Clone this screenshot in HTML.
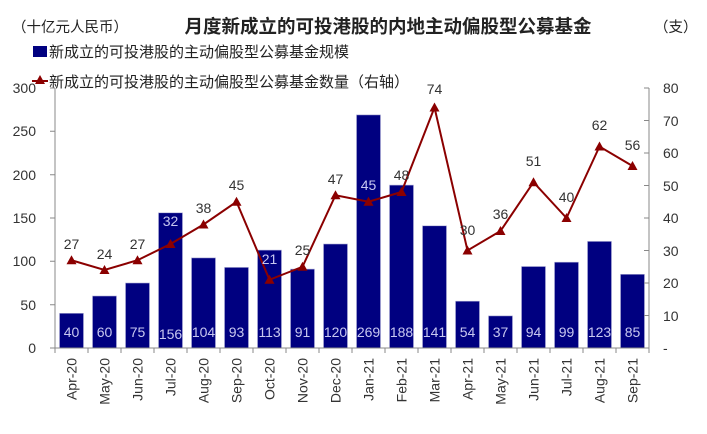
<!DOCTYPE html>
<html><head><meta charset="utf-8"><style>body{margin:0;background:#fff}svg{display:block}text{font-family:"Liberation Sans","Noto Sans CJK SC",sans-serif}</style></head><body>
<svg width="707" height="434" xmlns="http://www.w3.org/2000/svg">
<text x="12" y="32" font-size="14.5" fill="#222">（十亿元人民币）</text>
<text x="388" y="33" font-size="18.5" font-weight="bold" fill="#222" text-anchor="middle">月度新成立的可投港股的内地主动偏股型公募基金</text>
<text x="654" y="32" font-size="14.5" fill="#222">（支）</text>
<rect x="33" y="46" width="14" height="11" fill="#000080"/>
<text x="49" y="57" font-size="15" fill="#222">新成立的可投港股的主动偏股型公募基金规模</text>
<line x1="32" y1="81" x2="48" y2="81" stroke="#8b0000" stroke-width="2"/>
<polygon points="40,75 45,84 35,84" fill="#8b0000"/>
<text x="49" y="87" font-size="15" fill="#222">新成立的可投港股的主动偏股型公募基金数量（右轴）</text>

<g fill="#000080" stroke="#b0b0d8" stroke-width="0.6">
<rect x="59.5" y="313.3" width="24" height="34.7"/>
<rect x="92.5" y="296" width="24" height="52"/>
<rect x="125.5" y="283" width="24" height="65"/>
<rect x="158.5" y="212.8" width="24" height="135.2"/>
<rect x="191.5" y="257.9" width="24" height="90.1"/>
<rect x="224.5" y="267.4" width="24" height="80.6"/>
<rect x="257.5" y="250.1" width="24" height="97.9"/>
<rect x="290.5" y="269.1" width="24" height="78.9"/>
<rect x="323.5" y="244" width="24" height="104"/>
<rect x="356.5" y="114.9" width="24" height="233.1"/>
<rect x="389.5" y="185.1" width="24" height="162.9"/>
<rect x="422.5" y="225.8" width="24" height="122.2"/>
<rect x="455.5" y="301.2" width="24" height="46.8"/>
<rect x="488.5" y="315.9" width="24" height="32.1"/>
<rect x="521.5" y="266.5" width="24" height="81.5"/>
<rect x="554.5" y="262.2" width="24" height="85.8"/>
<rect x="587.5" y="241.4" width="24" height="106.6"/>
<rect x="620.5" y="274.3" width="24" height="73.7"/>
</g>

<g stroke="#888" stroke-width="1" fill="none">
<path d="M55,88 V348 H649 V88"/>
<path d="M50,88H55M50,131.3H55M50,174.7H55M50,218H55M50,261.3H55M50,304.7H55M50,348H55"/>
<path d="M644,88H649M644,120.5H649M644,153H649M644,185.5H649M644,218H649M644,250.5H649M644,283H649M644,315.5H649M644,348H649"/>
<path d="M55,348v5M88,348v5M121,348v5M154,348v5M187,348v5M220,348v5M253,348v5M286,348v5M319,348v5M352,348v5M385,348v5M418,348v5M451,348v5M484,348v5M517,348v5M550,348v5M583,348v5M616,348v5M649,348v5"/>
</g>
<g font-size="14" fill="#333" text-anchor="end">
<text x="36" y="93">300</text><text x="36" y="136">250</text><text x="36" y="180">200</text><text x="36" y="223">150</text><text x="36" y="266">100</text><text x="36" y="310">50</text><text x="36" y="353">0</text>
</g>
<g font-size="14" fill="#333">
<text x="663" y="93">80</text><text x="663" y="126">70</text><text x="663" y="158">60</text><text x="663" y="191">50</text><text x="663" y="223">40</text><text x="663" y="256">30</text><text x="663" y="288">20</text><text x="663" y="321">10</text><text x="663" y="353">-</text>
</g>

<g font-size="14" fill="#c8c8f0" text-anchor="middle">
<text x="71.5" y="337">40</text><text x="104.5" y="337">60</text><text x="137.5" y="337">75</text><text x="170.5" y="339">156</text><text x="203.5" y="337">104</text><text x="236.5" y="337">93</text><text x="269.5" y="337">113</text><text x="302.5" y="337">91</text><text x="335.5" y="337">120</text><text x="368.5" y="337">269</text><text x="401.5" y="337">188</text><text x="434.5" y="337">141</text><text x="467.5" y="337">54</text><text x="500.5" y="337">37</text><text x="533.5" y="337">94</text><text x="566.5" y="337">99</text><text x="599.5" y="337">123</text><text x="632.5" y="337">85</text>
</g>

<g font-size="14" fill="#333" text-anchor="end">
<text transform="translate(76.5,358) rotate(-90)">Apr-20</text>
<text transform="translate(109.5,358) rotate(-90)">May-20</text>
<text transform="translate(142.5,358) rotate(-90)">Jun-20</text>
<text transform="translate(175.5,358) rotate(-90)">Jul-20</text>
<text transform="translate(208.5,358) rotate(-90)">Aug-20</text>
<text transform="translate(241.5,358) rotate(-90)">Sep-20</text>
<text transform="translate(274.5,358) rotate(-90)">Oct-20</text>
<text transform="translate(307.5,358) rotate(-90)">Nov-20</text>
<text transform="translate(340.5,358) rotate(-90)">Dec-20</text>
<text transform="translate(373.5,358) rotate(-90)">Jan-21</text>
<text transform="translate(406.5,358) rotate(-90)">Feb-21</text>
<text transform="translate(439.5,358) rotate(-90)">Mar-21</text>
<text transform="translate(472.5,358) rotate(-90)">Apr-21</text>
<text transform="translate(505.5,358) rotate(-90)">May-21</text>
<text transform="translate(538.5,358) rotate(-90)">Jun-21</text>
<text transform="translate(571.5,358) rotate(-90)">Jul-21</text>
<text transform="translate(604.5,358) rotate(-90)">Aug-21</text>
<text transform="translate(637.5,358) rotate(-90)">Sep-21</text>
</g>

<polyline points="71.5,260.25 104.5,270 137.5,260.25 170.5,244 203.5,224.5 236.5,201.75 269.5,279.75 302.5,266.75 335.5,195.25 368.5,201.75 401.5,192 434.5,107.5 467.5,250.5 500.5,231 533.5,182.25 566.5,218 599.5,146.5 632.5,166" fill="none" stroke="#8b0000" stroke-width="2"/>
<g fill="#8b0000">
<polygon points="71.5,255.25 76.5,264.25 66.5,264.25"/>
<polygon points="104.5,265 109.5,274 99.5,274"/>
<polygon points="137.5,255.25 142.5,264.25 132.5,264.25"/>
<polygon points="170.5,239 175.5,248 165.5,248"/>
<polygon points="203.5,219.5 208.5,228.5 198.5,228.5"/>
<polygon points="236.5,196.75 241.5,205.75 231.5,205.75"/>
<polygon points="269.5,274.75 274.5,283.75 264.5,283.75"/>
<polygon points="302.5,261.75 307.5,270.75 297.5,270.75"/>
<polygon points="335.5,190.25 340.5,199.25 330.5,199.25"/>
<polygon points="368.5,196.75 373.5,205.75 363.5,205.75"/>
<polygon points="401.5,187 406.5,196 396.5,196"/>
<polygon points="434.5,102.5 439.5,111.5 429.5,111.5"/>
<polygon points="467.5,245.5 472.5,254.5 462.5,254.5"/>
<polygon points="500.5,226 505.5,235 495.5,235"/>
<polygon points="533.5,177.25 538.5,186.25 528.5,186.25"/>
<polygon points="566.5,213 571.5,222 561.5,222"/>
<polygon points="599.5,141.5 604.5,150.5 594.5,150.5"/>
<polygon points="632.5,161 637.5,170 627.5,170"/>
</g>
<g font-size="14" fill="#333" text-anchor="middle">
<text x="71.5" y="249">27</text><text x="104.5" y="259">24</text><text x="137.5" y="249">27</text><text x="170.5" y="226" fill="#c8c8f0">32</text><text x="203.5" y="213">38</text><text x="236.5" y="190">45</text><text x="269.5" y="264" fill="#c8c8f0">21</text><text x="302.5" y="255">25</text><text x="335.5" y="184">47</text><text x="368.5" y="190" fill="#c8c8f0">45</text><text x="401.5" y="180">48</text><text x="434.5" y="94">74</text><text x="467.5" y="235">30</text><text x="500.5" y="219">36</text><text x="533.5" y="166">51</text><text x="566.5" y="202">40</text><text x="599.5" y="130">62</text><text x="632.5" y="150">56</text>
</g>
</svg>
</body></html>
